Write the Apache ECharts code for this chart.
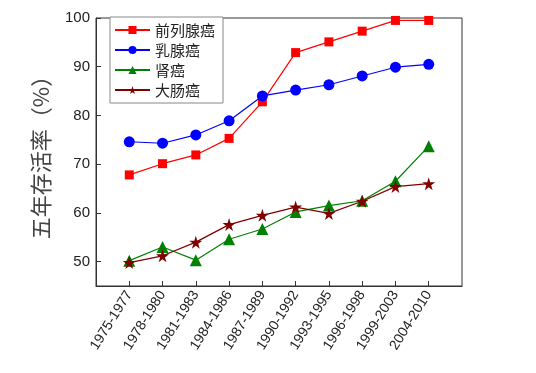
<!DOCTYPE html>
<html><head><meta charset="utf-8">
<script src="https://cdn.jsdelivr.net/npm/echarts@6/dist/echarts.min.js"></script>
<style>html,body{margin:0;padding:0;background:#fff}#c{width:536px;height:373px}</style>
</head><body><div id="c"></div>
<script>
const categories = ['1975-1977','1978-1980','1981-1983','1984-1986','1987-1989','1990-1992','1993-1995','1996-1998','1999-2003','2004-2010'];
const prostate = [67.8, 70.1, 71.9, 75.3, 82.8, 92.9, 95.1, 97.3, 99.5, 99.5];
const breast = [74.6, 74.3, 76.0, 78.9, 84.0, 85.2, 86.3, 88.1, 89.9, 90.5];
const kidney = [50.2, 53.0, 50.3, 54.6, 56.7, 60.2, 61.5, 62.5, 66.5, 73.7];
const colorectal = [49.8, 51.2, 54.0, 57.6, 59.5, 61.2, 59.9, 62.4, 65.4, 66.0];
const seriesNames = ['前列腺癌','乳腺癌','肾癌','大肠癌'];
const yTicks = [50, 60, 70, 80, 90, 100];
const yName = '五年存活率（%）';

const xPos = categories.map((c, i) => i + 1);
const toPts = arr => arr.map((v, i) => [xPos[i], v]);

const chart = echarts.init(document.getElementById('c'), null, {renderer: 'canvas'});
const starPath = 'path://M50,0 L61,35 L98,35 L68,57 L79,91 L50,70 L21,91 L32,57 L2,35 L39,35 Z';
const styles = [
  {color: '#ff0000', symbol: 'rect', size: 9},
  {color: '#0000ff', symbol: 'circle', size: 11},
  {color: '#008000', symbol: 'triangle', size: 12},
  {color: '#800000', symbol: starPath, size: 13}
];
const datas = [prostate, breast, kidney, colorectal];
chart.setOption({
  animation: false,
  grid: {left: 96, top: 18, right: 74, bottom: 87, show: true, borderColor: '#333', borderWidth: 1, backgroundColor: 'transparent'},
  legend: {
    left: 110, top: 17, orient: 'vertical', itemGap: 4, itemWidth: 35, itemHeight: 10,
    backgroundColor: '#fff', borderColor: '#888', borderWidth: 1, padding: [5, 8, 5, 4],
    textStyle: {fontSize: 15, color: '#222', fontFamily: 'Noto Sans CJK SC', lineHeight: 16},
    data: seriesNames
  },
  xAxis: {
    type: 'value', min: 0, max: categories.length + 1,
    splitLine: {show: false},
    axisLine: {show: true, lineStyle: {color: '#333'}},
    axisTick: {show: true, inside: true, length: 5, lineStyle: {color: '#333'}, customValues: xPos},
    axisLabel: {
      customValues: xPos, rotate: 58, margin: 6, fontSize: 14, color: '#222',
      fontFamily: 'Liberation Sans, Arial, sans-serif',
      formatter: v => categories[Math.round(v) - 1] || ''
    }
  },
  yAxis: {
    type: 'value', min: 45, max: 100,
    name: yName, nameLocation: 'middle', nameGap: 44, nameRotate: 90,
    nameTextStyle: {fontSize: 22, color: '#444', fontFamily: 'Noto Sans CJK SC'},
    splitLine: {show: false},
    axisLine: {show: true, lineStyle: {color: '#333'}},
    axisTick: {show: true, inside: true, length: 5, lineStyle: {color: '#333'}, customValues: yTicks},
    axisLabel: {customValues: yTicks, fontSize: 15, color: '#222', margin: 6, fontFamily: 'Liberation Sans, Arial, sans-serif'}
  },
  series: datas.map((d, i) => ({
    name: seriesNames[i], type: 'line', data: toPts(d),
    symbol: styles[i].symbol, symbolSize: styles[i].size,
    itemStyle: {color: styles[i].color},
    lineStyle: {color: styles[i].color, width: 1.2},
    showAllSymbol: true
  }))
});
</script></body></html>
